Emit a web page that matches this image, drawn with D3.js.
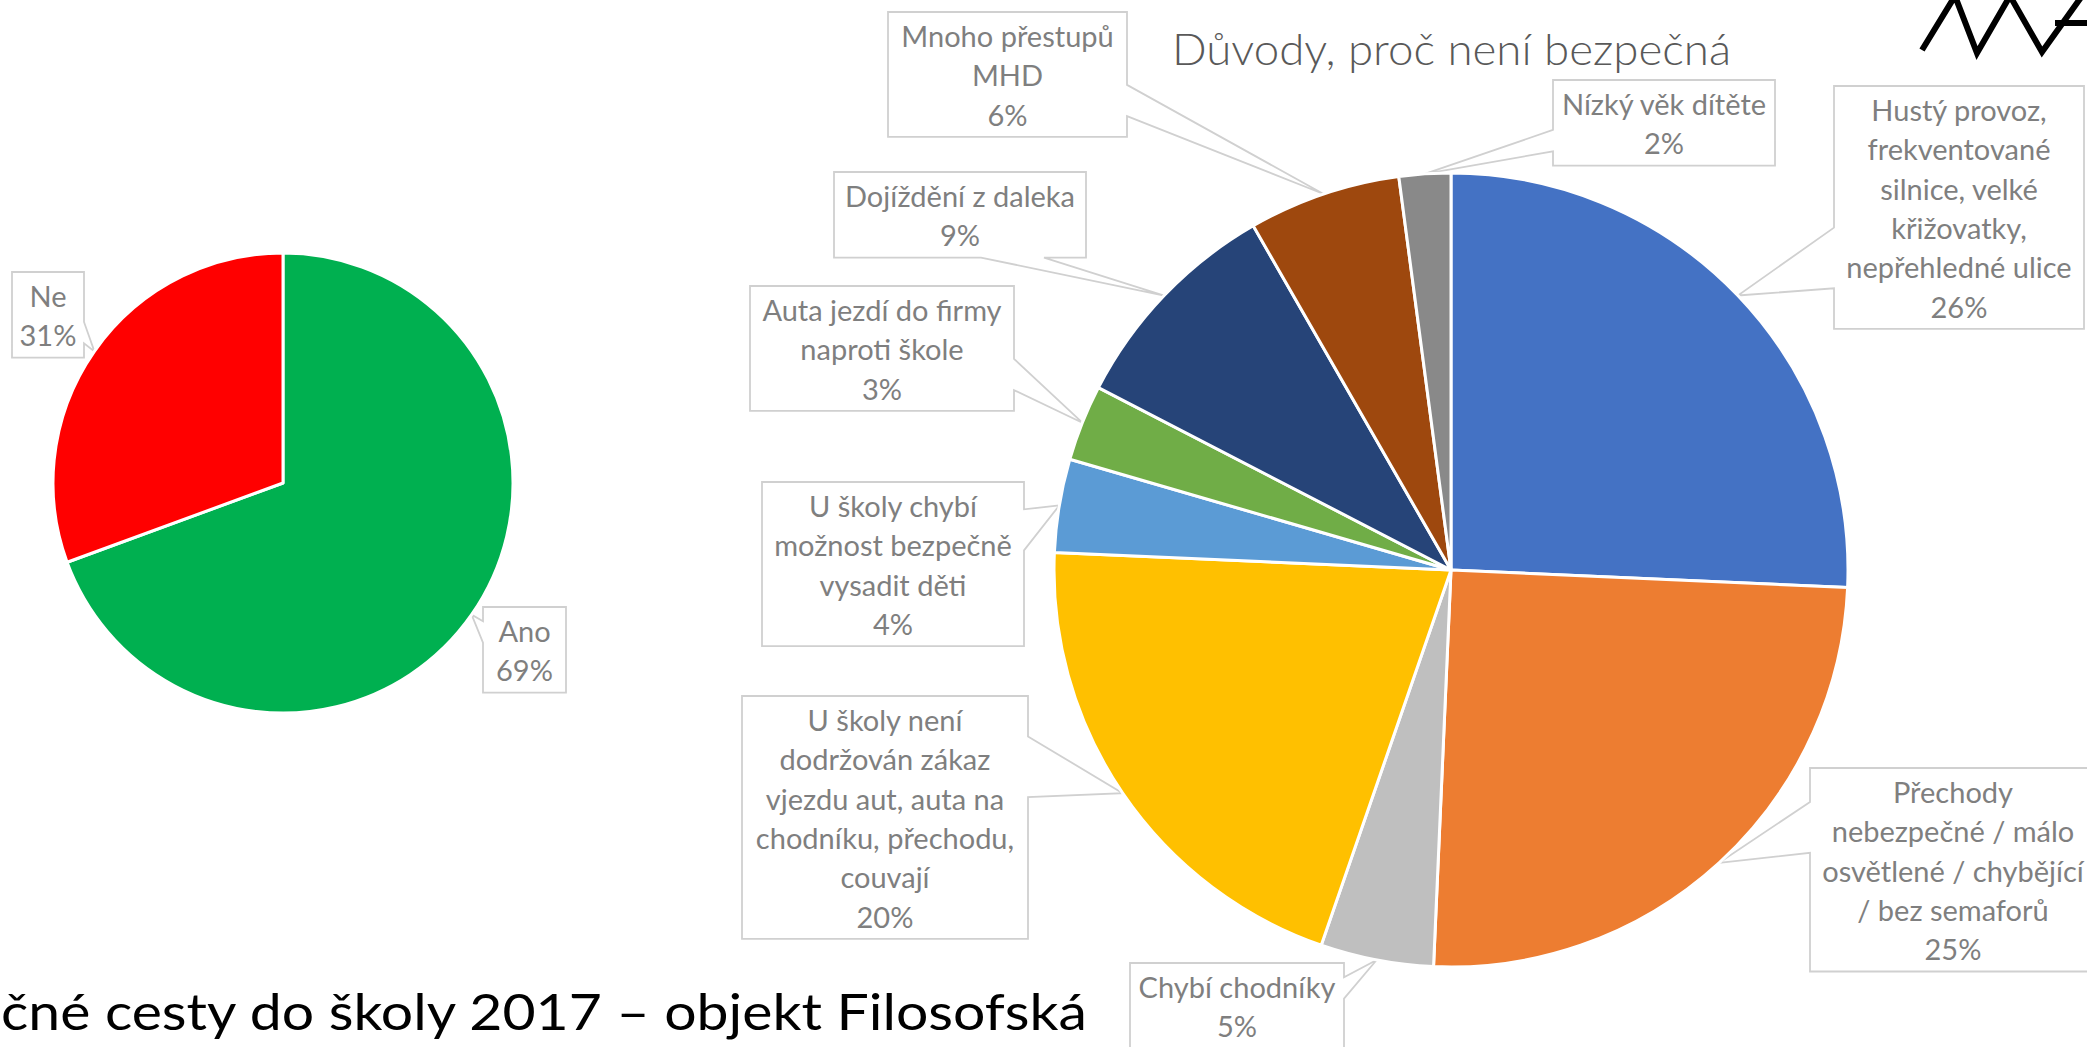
<!DOCTYPE html>
<html>
<head>
<meta charset="utf-8">
<script src="https://cdn.jsdelivr.net/npm/d3@7"></script>
<style>
body { margin: 0; background: #fff; overflow: hidden; }
svg { display: block; }
</style>
</head>
<body>
<svg width="2087" height="1047"></svg>
<script>
// je cesta bezpečná?
let safeLabels = [['Ano'], ['Ne']];
let safeValues = [69.4, 30.6];
let safeColors = ['#00B050', '#FF0000'];

// důvody, proč není bezpečná
let reasonLabels = [
    ['Hustý provoz,', 'frekventované', 'silnice, velké', 'křižovatky,', 'nepřehledné ulice'],
    ['Přechody', 'nebezpečné / málo', 'osvětlené / chybějící', '/ bez semaforů'],
    ['Chybí chodníky'],
    ['U školy není', 'dodržován zákaz', 'vjezdu aut, auta na', 'chodníku, přechodu,', 'couvají'],
    ['U školy chybí', 'možnost bezpečně', 'vysadit děti'],
    ['Auta jezdí do firmy', 'naproti škole'],
    ['Dojíždění z daleka'],
    ['Mnoho přestupů', 'MHD'],
    ['Nízký věk dítěte']
];
let reasonValues = [25.7, 25.0, 4.6, 20.4, 3.8, 3.1, 9.1, 6.2, 2.1];
let reasonColors = ['#4472C4', '#ED7D31', '#BFBFBF', '#FFC000', '#5B9BD5', '#70AD47', '#264478', '#9E480E', '#898989'];

let reasonTitle = 'Důvody, proč není bezpečná';
let slideTitle = 'čné cesty do školy 2017 – objekt Filosofská';

// callout boxes: left, top, width
let safeBoxes = [[483, 607, 83], [12, 272, 72]];
let reasonBoxes = [
    [1834, 86, 250], [1810, 768, 286], [1130, 963, 214], [742, 696, 286], [762, 482, 262],
    [750, 286, 264], [834, 172, 252], [888, 12, 239], [1553, 80, 222]
];

let svg = d3.select('svg');
let lineH = 39.3;

// Excel-style wedge rectangle callout
function calloutPath (b, tip) {
    let [x, y, w, h] = b;
    let dx = tip[0] - (x + w / 2), dy = tip[1] - (y + h / 2);
    let dz = Math.abs(dy) - Math.abs(dx * h / w);
    let xa = x + w * (dx > 0 ? 7 : 2) / 12, xb = x + w * (dx > 0 ? 10 : 5) / 12;
    let ya = y + h * (dy > 0 ? 7 : 2) / 12, yb = y + h * (dy > 0 ? 10 : 5) / 12;
    let t = tip.join(',');
    if (dz > 0) {
        if (dy < 0) return `M${x},${y}L${xa},${y}L${t}L${xb},${y}L${x+w},${y}L${x+w},${y+h}L${x},${y+h}Z`;
        return `M${x},${y}L${x+w},${y}L${x+w},${y+h}L${xb},${y+h}L${t}L${xa},${y+h}L${x},${y+h}Z`;
    }
    if (dx < 0) return `M${x},${y}L${x+w},${y}L${x+w},${y+h}L${x},${y+h}L${x},${yb}L${t}L${x},${ya}Z`;
    return `M${x},${y}L${x+w},${y}L${x+w},${ya}L${t}L${x+w},${yb}L${x+w},${y+h}L${x},${y+h}Z`;
}

function createPie (labels, values, colors, boxes, cx, cy, r) {
    let pie = d3.pie().sort(null).value(d => d);
    let arcs = pie(values);
    let arc = d3.arc().innerRadius(0).outerRadius(r);
    let edge = d3.arc().innerRadius(r).outerRadius(r);

    let items = arcs.map((a, i) => {
        let lines = labels[i].concat([Math.round(values[i]) + '%']);
        let b = boxes[i];
        let box = [b[0], b[1], b[2], lines.length * lineH + 7];
        let c = edge.centroid(a);
        return {lines: lines, box: box, tip: [cx + c[0], cy + c[1]]};
    });

    let g = svg.append('g');

    g.selectAll('.callout')
        .data(items)
        .enter()
        .append('path')
        .attr('class', 'callout')
        .attr('d', d => calloutPath(d.box, d.tip))
        .attr('fill', '#fff')
        .attr('stroke', '#D0D0D0')
        .attr('stroke-width', 1.8);

    g.append('g')
        .attr('transform', `translate(${cx},${cy})`)
        .selectAll('path')
        .data(arcs)
        .enter()
        .append('path')
        .attr('d', arc)
        .attr('fill', (d, i) => colors[i])
        .attr('stroke', '#fff')
        .attr('stroke-width', 3)
        .attr('stroke-linejoin', 'round');

    items.forEach(d => {
        let t = g.append('text')
            .attr('text-anchor', 'middle')
            .attr('font-family', 'Lato, sans-serif')
            .attr('font-size', 29)
            .attr('fill', '#7F7F7F');
        d.lines.forEach((l, k) => {
            t.append('tspan')
                .attr('x', d.box[0] + d.box[2] / 2)
                .attr('y', d.box[1] + 35 + k * lineH)
                .text(l);
        });
    });
}

createPie(safeLabels, safeValues, safeColors, safeBoxes, 283, 483, 230);
createPie(reasonLabels, reasonValues, reasonColors, reasonBoxes, 1451, 570, 397);

svg.append('text')
    .attr('x', 1172)
    .attr('y', 65)
    .attr('font-family', 'Lato, sans-serif')
    .attr('font-weight', 300)
    .attr('font-size', 43)
    .attr('fill', '#595959')
    .attr('textLength', 559)
    .attr('lengthAdjust', 'spacingAndGlyphs')
    .text(reasonTitle);

svg.append('text')
    .attr('x', 1)
    .attr('y', 1030)
    .attr('font-family', 'Lato, sans-serif')
    .attr('font-size', 51)
    .attr('fill', '#000')
    .attr('textLength', 1086)
    .attr('lengthAdjust', 'spacingAndGlyphs')
    .text(slideTitle);

// logo in the corner
svg.append('path')
    .attr('d', 'M1922,50L1955,-4L1977,53L2010,-4L2042,52L2082,-4M2055,23L2090,23')
    .attr('fill', 'none')
    .attr('stroke', '#000')
    .attr('stroke-width', 6);
</script>
</body>
</html>
